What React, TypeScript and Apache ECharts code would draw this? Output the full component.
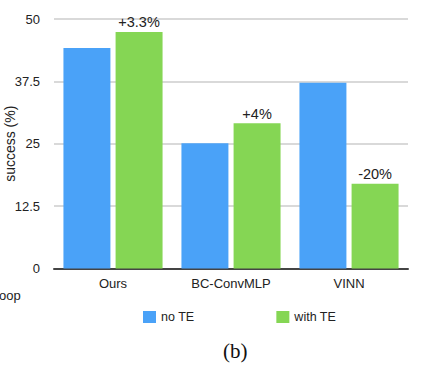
import React, { useEffect, useRef } from "react";
import * as echarts from "echarts";

const categories = ["Ours", "BC-ConvMLP", "VINN"];
const noTE = [44.2, 25.1, 37.2];
const withTE = [47.4, 29.1, 17.0];
const deltaLabels = ["+3.3%", "+4%", "-20%"];
const yTicks = [0, 12.5, 25, 37.5, 50];
const seriesNames = ["no TE", "with TE"];

const FONT = "'Liberation Sans', Arial, sans-serif";

export default function App() {
  const ref = useRef<HTMLDivElement>(null);
  useEffect(() => {
    if (!ref.current) return;
    const chart = echarts.init(ref.current, undefined, { renderer: "svg" });
    chart.setOption({
      animation: false,
      backgroundColor: "#ffffff",
      textStyle: { fontFamily: FONT },
      grid: {
        left: 54,
        right: 13,
        top: 19,
        bottom: 103.5,
        containLabel: false,
        outerBoundsMode: "none",
      },
      legend: {
        data: seriesNames,
        left: 143,
        top: 310.5,
        padding: 0,
        itemWidth: 13,
        itemHeight: 12,
        itemGap: 82,
        icon: "rect",
        textStyle: { fontFamily: FONT, fontSize: 12.5, color: "#222" },
      },
      xAxis: {
        type: "category",
        data: categories,
        axisTick: { show: false },
        axisLine: { lineStyle: { color: "#444", width: 2 } },
        axisLabel: { fontFamily: FONT, fontSize: 13, color: "#222", margin: 8 },
      },
      yAxis: {
        type: "value",
        min: yTicks[0],
        max: yTicks[yTicks.length - 1],
        interval: 12.5,
        name: "success (%)",
        nameLocation: "middle",
        nameGap: 37.5,
        nameMoveOverlap: false,
        nameTextStyle: { fontFamily: FONT, fontSize: 14, color: "#222" },
        axisLine: { show: false },
        axisTick: { show: false },
        axisLabel: { fontFamily: FONT, fontSize: 13, color: "#222", margin: 14 },
        splitLine: { lineStyle: { color: "#cccccc", width: 1.5 } },
      },
      series: [
        {
          name: seriesNames[0],
          type: "bar",
          data: noTE,
          itemStyle: { color: "#4aa2f8" },
          barCategoryGap: "16%",
          barGap: "11%",
        },
        {
          name: seriesNames[1],
          type: "bar",
          data: withTE,
          itemStyle: { color: "#85d654" },
          barCategoryGap: "16%",
          barGap: "11%",
          label: {
            show: true,
            position: "top",
            distance: 2,
            fontFamily: FONT,
            fontSize: 14.5,
            color: "#222",
            formatter: (p: any) => deltaLabels[p.dataIndex],
          },
        },
      ],
      graphic: [
        {
          type: "text",
          left: -1,
          top: 289,
          style: { text: "oop", fontFamily: FONT, fontSize: 13, fill: "#222" },
        },
        {
          type: "text",
          left: 223,
          top: 340,
          style: {
            text: "(b)",
            fontFamily: "'Liberation Serif', 'Times New Roman', serif",
            fontSize: 21,
            fill: "#111",
          },
        },
      ],
    });
    return () => chart.dispose();
  }, []);
  return (
    <div
      ref={ref}
      style={{ position: "fixed", left: 0, top: 0, width: 421, height: 372 }}
    />
  );
}
